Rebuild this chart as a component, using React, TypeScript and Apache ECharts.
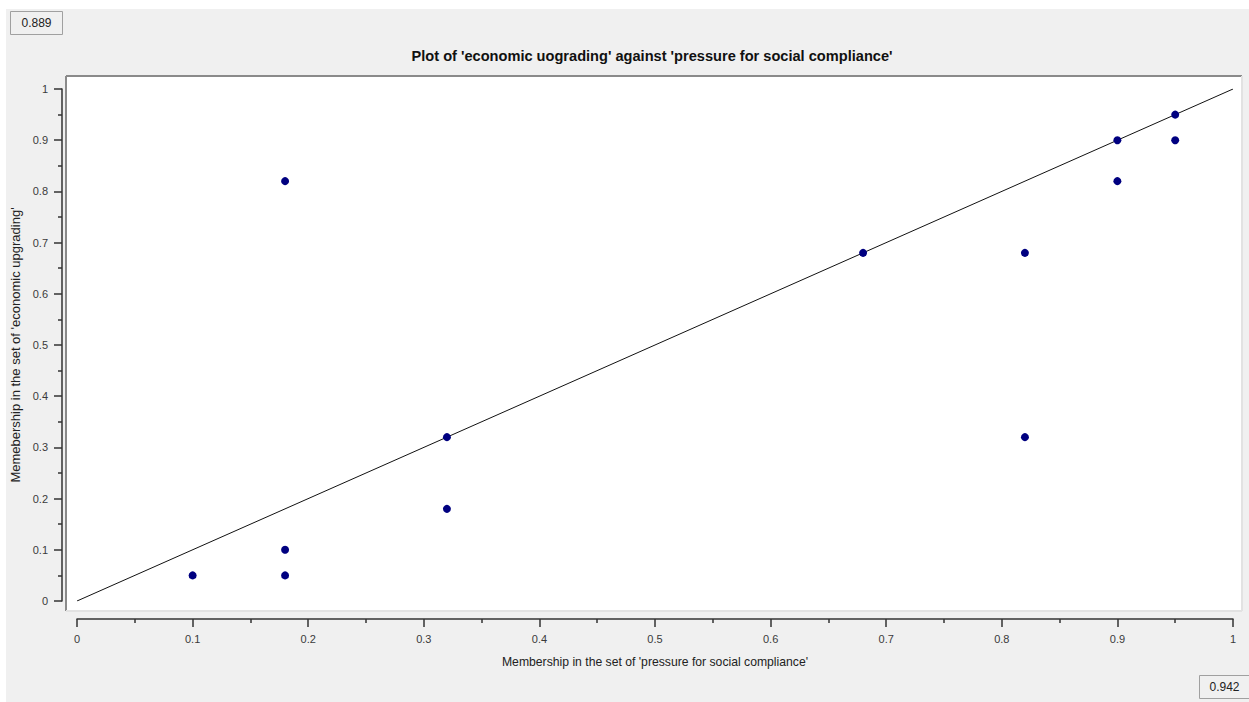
import React, { useEffect, useRef } from "react";
import * as echarts from "echarts";

// Fuzzy-set membership scores for each case: x = pressure for social compliance, y = economic upgrading
const pressureScores = [0.1, 0.18, 0.18, 0.18, 0.32, 0.32, 0.68, 0.82, 0.82, 0.9, 0.9, 0.95, 0.95];
const upgradingScores = [0.05, 0.82, 0.1, 0.05, 0.32, 0.18, 0.68, 0.68, 0.32, 0.9, 0.82, 0.95, 0.9];

// Reference diagonal (x = y)
const diagonal = [
  [0, 0],
  [1, 1],
];

const consistencyValue = "0.889";
const coverageValue = "0.942";

const titleText = "Plot of 'economic uograding' against 'pressure for social compliance'";
const xName = "Membership in the set of 'pressure for social compliance'";
const yName = "Memebership in the set of 'economic upgrading'";

const W = 1249;
const H = 702;
const FONT = "'Liberation Sans', Arial, sans-serif";
const LABEL_COLOR = "#3a3a3a";

export default function App() {
  const ref = useRef<HTMLDivElement>(null);

  useEffect(() => {
    if (!ref.current) return;
    const chart = echarts.init(ref.current, undefined, { renderer: "svg", width: W, height: H });

    const points = pressureScores.map((x, i) => [x, upgradingScores[i]]);

    const axisCommon = {
      type: "value" as const,
      min: 0,
      max: 1,
      interval: 0.1,
      splitLine: { show: false },
      axisLine: { show: true, onZero: false, lineStyle: { color: "#333", width: 1.5 } },
      axisTick: { show: true, inside: false, length: 8, lineStyle: { color: "#333", width: 1.5 } },
      minorTick: { show: true, splitNumber: 2, length: 4, lineStyle: { color: "#333", width: 1.5 } },
      axisLabel: {
        color: LABEL_COLOR,
        fontSize: 11,
        fontFamily: FONT,
        margin: 14,
        formatter: (v: number) => String(Math.round(v * 10) / 10),
      },
      nameLocation: "middle" as const,
    };

    chart.setOption({
      animation: false,
      backgroundColor: "#ffffff",
      textStyle: { fontFamily: FONT },
      grid: { left: 77, right: 16, top: 89, bottom: 101, containLabel: false },
      xAxis: {
        ...axisCommon,
        offset: 18,
        name: xName,
        nameGap: 37,
        nameTextStyle: { color: "#222", fontSize: 12.2, fontFamily: FONT },
      },
      yAxis: {
        ...axisCommon,
        offset: 15,
        name: yName,
        nameGap: 33,
        nameTextStyle: { color: "#222", fontSize: 13, fontFamily: FONT },
      },
      graphic: [
        // panel background
        { type: "rect", z: -10, shape: { x: 6, y: 9, width: W - 6, height: H - 9 }, style: { fill: "#f0f0f0" }, silent: true },
        // plotting area
        { type: "rect", z: -9, shape: { x: 66, y: 76, width: 1176, height: 535 }, style: { fill: "#ffffff" }, silent: true },
        { type: "line", z: -8, shape: { x1: 66, y1: 76, x2: 1242, y2: 76 }, style: { stroke: "#8a8a8a", lineWidth: 2 }, silent: true },
        { type: "line", z: -8, shape: { x1: 66, y1: 76, x2: 66, y2: 611 }, style: { stroke: "#8a8a8a", lineWidth: 2 }, silent: true },
        { type: "line", z: -8, shape: { x1: 1242, y1: 76, x2: 1242, y2: 611 }, style: { stroke: "#e2e2e2", lineWidth: 2 }, silent: true },
        { type: "line", z: -8, shape: { x1: 66, y1: 611, x2: 1242, y2: 611 }, style: { stroke: "#e2e2e2", lineWidth: 2 }, silent: true },
        // title
        {
          type: "text",
          x: 652,
          y: 56,
          style: {
            text: titleText,
            textAlign: "center",
            textVerticalAlign: "middle",
            fontSize: 14.6,
            fontWeight: "bold",
            fontFamily: FONT,
            fill: "#111",
          },
        },
        // consistency box
        { type: "rect", shape: { x: 10.5, y: 11.5, width: 52, height: 23 }, style: { fill: "#f0f0f0", stroke: "#a0a0a0", lineWidth: 1 } },
        {
          type: "text",
          x: 36.5,
          y: 23,
          style: { text: consistencyValue, textAlign: "center", textVerticalAlign: "middle", fontSize: 12, fontFamily: FONT, fill: "#222" },
        },
        // coverage box
        { type: "rect", shape: { x: 1199.5, y: 675.5, width: 50, height: 23 }, style: { fill: "#f0f0f0", stroke: "#a0a0a0", lineWidth: 1 } },
        {
          type: "text",
          x: 1224.5,
          y: 687,
          style: { text: coverageValue, textAlign: "center", textVerticalAlign: "middle", fontSize: 12, fontFamily: FONT, fill: "#222" },
        },
      ],
      series: [
        {
          type: "line",
          data: diagonal,
          symbol: "none",
          lineStyle: { color: "#111", width: 1 },
          z: 2,
          silent: true,
        },
        {
          type: "scatter",
          data: points,
          symbol: "circle",
          symbolSize: 8,
          itemStyle: { color: "#000080", opacity: 1 },
          z: 3,
        },
      ],
    });

    return () => chart.dispose();
  }, []);

  return <div ref={ref} style={{ position: "absolute", left: 0, top: 0, width: W, height: H }} />;
}
